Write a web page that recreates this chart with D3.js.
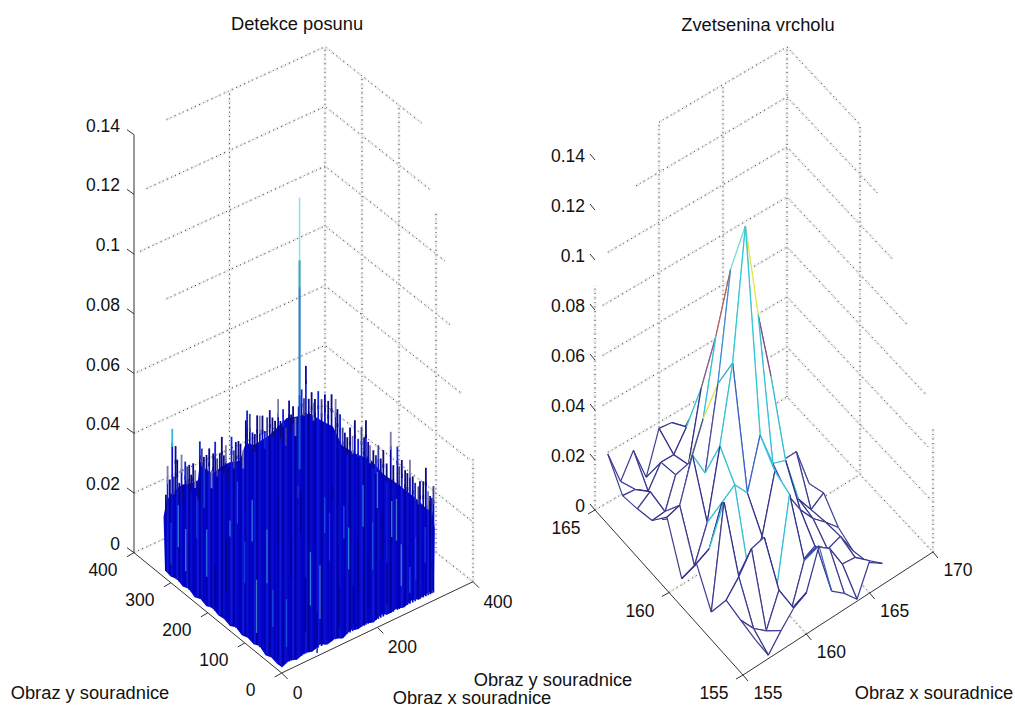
<!DOCTYPE html>
<html>
<head>
<meta charset="utf-8">
<script src="https://d3js.org/d3.v7.min.js"></script>
<style>
  html, body { margin: 0; background: #fff; }
  text { font-family: 'Liberation Sans', Arial, sans-serif; font-size: 17.5px; fill: #111; }
  text.name { font-size: 18.3px; }
</style>
</head>
<body>
<div id="chart"></div>
<script>
// heights are all in thousandths of the z unit
const zTicks = [0, 0.02, 0.04, 0.06, 0.08, 0.1, 0.12, 0.14]

// left plot: tips of the spikes along the back edges
const backX = [5, 8.5, 13.3, 18.2, 21.7, 25.2, 28.7, 32.9, 37.7, 41.2, 45.4, 49.6, 53.8, 57.9, 62.1, 66.3, 71.9, 76, 80.2, 84.4, 90, 95.6, 100.5, 104, 108.1, 112.3, 117.9, 122, 126.3, 130.4, 136, 142.3, 147.2, 151.3, 156.9, 161.1, 166.7, 172.3, 175, 180.6, 186.2, 191, 196, 201.5, 207.1, 212, 216.9, 222.4, 228, 233.6, 239.9, 244.7, 250.3, 255.9, 262.9, 267, 271.2, 276.1, 283, 289, 294, 298, 304, 310, 314, 317]
const backTip = [27.1, 36.5, 31.6, 48.2, 32, 41.9, 37.1, 29, 38.1, 27.7, 35.2, 33.3, 33.5, 29.9, 33.4, 30.8, 26, 39.7, 37, 33.9, 34.1, 35.9, 28.2, 33.6, 37.2, 31.3, 32.6, 37.8, 31.3, 34.4, 26.7, 36.3, 31.4, 33.9, 33.8, 32.5, 29.9, 39.6, 42.7, 41.1, 34.5, 33.6, 39.5, 39, 38.6, 33.1, 37.3, 39.3, 36.4, 34.9, 41.7, 34, 37.5, 30.9, 39.5, 34.5, 37, 32.7, 36, 41.3, 38, 48.5, 37, 38.8, 35, 36]
const sideY = [315, 306, 297, 288, 279, 268, 263, 256, 249, 243, 236.5, 229, 222, 216, 207, 198, 191, 186, 180, 175, 166, 159, 152.5, 146, 139, 130, 119, 112, 101, 96, 89, 80, 74, 67, 59.5, 53, 44, 40, 31, 24, 18, 12.5, 8, 3.5]
const sideTip = [38.9, 37.1, 39.6, 38.3, 41.4, 40.9, 38, 37, 33.2, 32.1, 31.2, 35.2, 33.1, 38.9, 33.6, 38.4, 35.7, 41.9, 35.2, 34.6, 33.8, 32.8, 36.8, 33, 36.5, 32.9, 44.6, 34.1, 41.4, 35.3, 38.1, 35.6, 35.2, 40.4, 35.5, 34, 33.7, 35.8, 36.7, 41.9, 34.6, 33.6, 33.4, 37.8]

// left plot: top of the solid mass under the spikes
const bodyBackX = [0, 6, 20, 38, 60, 72, 76, 90, 103, 125, 139, 160, 172, 190, 223, 258, 277, 306]
const bodyBackZ = [20, 25, 27, 28, 27, 27, 33, 29, 27, 28, 28, 27, 32, 30, 31, 34, 33, 32]
const bodySideY = [302, 275, 251, 210, 175, 140, 94, 48, 5, 0]
const bodySideZ = [30, 31, 27, 28, 30, 28.5, 29, 29, 28, 24]

// left plot: ragged lower rim of the mesh
const rimY = [316, 300, 284, 268, 252, 236, 220, 204, 188, 172, 156, 140, 124, 108, 92, 76, 60, 44, 28, 12, 0]
const rimYZ = [2.5, 2, 3, 2, 2.8, 1.6, 2.6, 1.8, 3, 2, 2.4, 1.6, 2.8, 1.8, 2.5, 2, 3, 1.5, 2.4, 1.8, 2]
const rimX = [0, 16, 32, 48, 64, 80, 96, 112, 128, 144, 160, 176, 192, 208, 224, 240, 256, 272, 288, 304, 318]
const rimXZ = [1.8, 3, 2, 3, 2.2, 3.4, 2.2, 3, 1.8, 3.4, 2.4, 3.2, 2.2, 3.6, 2.6, 3.2, 2.4, 3.6, 2.8, 3.4, 3.6]

// left plot: light and dark streaks inside the mass
const streakX = [0, 0, 160, 0, 34, 105, 0, 268, 74, 0, 0, 20, 60, 130, 210, 250, 300, 0, 0, 90, 180, 230, 0, 50, 140, 0, 120, 200, 0, 0, 0, 10, 40, 80, 100, 150, 170, 190, 220, 240, 280, 310, 0, 0, 0]
const streakY = [203, 24, 0, 68, 0, 0, 140, 0, 0, 260, 100, 0, 0, 0, 0, 0, 0, 180, 40, 0, 0, 0, 300, 0, 0, 120, 0, 0, 230, 150, 80, 0, 0, 0, 0, 0, 0, 0, 0, 0, 0, 0, 280, 210, 10]
const streakLo = [11.8, 13, 14.6, 6.6, 56, 50, 31.6, 6.4, 1, 8, 20, 30, 18, 35, 22, 10, 14, 4, 26, 40, 8, 28, 6, 10, 24, 38, 6, 40, 22, 12, 36, 8, 44, 12, 30, 5, 36, 20, 6, 26, 10, 22, 14, 34, 42]
const streakHi = [27.6, 25.5, 32.5, 24.4, 60, 54.5, 37, 15, 14.5, 22, 34, 44, 36, 46, 38, 24, 26, 18, 44, 52, 26, 40, 20, 28, 38, 52, 20, 52, 36, 30, 50, 24, 58, 30, 46, 18, 50, 36, 20, 40, 24, 34, 28, 48, 58]

// the tall peak of the left plot, from its tip down
const peakLevels = [131, 110, 101, 65, 40]

// right plot: mesh nodes, one row per y, 156..166 across
const meshX = [156, 157, 158, 159, 160, 161, 162, 163, 164, 165, 166]
const meshY = [155, 156, 157, 158, 159, 160, 161, 162, 163, 164, 165]
const row155 = [10.7, 1.4, 7.9, 13.6, 16.5, 32, 10.6, 6.4, 0.8, 12.9, 8.6]
const row156 = [12, 5.5, 1.3, 14.3, 3.6, 19.7, 22, 17.9, 8.5, 7.9, 2.7]
const row157 = [13.5, 19.6, 27.6, 29, 5.7, 39.7, 9.9, 12.5, 8, 10, 1]
const row158 = [2.2, 43, 9, 6.4, 19.7, 42.5, 29.9, 20.7, 14, 9.3, 4]
const row159 = [15, 17.7, 33, 37, 30.5, 50.5, 36, 34, 15.5, 8, 11.5]
const row160 = [2.4, 4.4, 18.5, 46, 76, 127.7, 89, 61.5, 24.8, 24.8, 9]
const row161 = [20.4, 22, 39, 28.7, 61.3, 104, 40, 30, 20, 14, 6]
const row162 = [12.5, 13, 7.6, 26.7, 40.8, 70.8, 30, 25, 15, 8, 6]
const row163 = [10.6, 14.4, 0.2, 15, 16, 43.5, 25, 20, 15, 8, 5]
const row164 = [9.3, 8.7, 5, 13.5, 13.5, 21.6, 29, 20, 15, 10, 8]
const row165 = [19.4, 5.4, 14.8, 1, 17.6, 16.9, 11.7, 5.7, 12, 8, 8]
const meshZ = [row155, row156, row157, row158, row159, row160, row161, row162, row163, row164, row165]

const svg = d3.select('#chart').append('svg').attr('width', 1015).attr('height', 707).style('display', 'block')

// corners of the floor on the page, then the bilinear map into it
function makeProjection(xDomain, yDomain, zHeight, corners) {
  const xs = d3.scaleLinear().domain(xDomain).range([0, 1])
  const ys = d3.scaleLinear().domain(yDomain).range([0, 1])
  const zs = d3.scaleLinear().domain([0, 0.14]).range([0, zHeight])
  return (x, y, z) => {
    const a = xs(x)
    const b = ys(y)
    const mix = k => corners.front[k] * (1 - a) * (1 - b) + corners.right[k] * a * (1 - b) +
      corners.left[k] * (1 - a) * b + corners.back[k] * a * b
    return [mix(0), mix(1) - zs(z || 0)]
  }
}

const line = d3.line()

function dotted(g, points) {
  g.append('path').attr('d', line(points)).attr('fill', 'none').attr('stroke', '#ececec')
    .attr('stroke-width', 3).attr('stroke-dasharray', '4 3')
  g.append('path').attr('d', line(points)).attr('fill', 'none').attr('stroke', '#333')
    .attr('stroke-width', 1).attr('stroke-dasharray', '1 3.5')
}
function solid(g, a, b) {
  g.append('path').attr('d', line([a, b])).attr('stroke', '#333').attr('stroke-width', 1)
}
function label(g, pos, dx, dy, s, anchor) {
  return g.append('text').attr('x', pos[0] + dx).attr('y', pos[1] + dy).attr('text-anchor', anchor || 'middle').text(s)
}

/* ---------- left plot ---------- */
const leftG = svg.append('g')
const pL = makeProjection([0, 400], [0, 400], 418, {
  front: [281.7, 673], right: [473, 581.7], left: [134, 552.7], back: [325, 464.7]
})

// wall grid; some lines of the original stop short of the corner
const leftGridFrom = [0, 0, 0, 6, 68, 13, 26, 68]
const leftGridTo = [0, 0, 8, 31, 58, 76, 116, 139]
zTicks.forEach((z, i) => {
  dotted(leftG, [pL(leftGridFrom[i], 400, z), pL(400, 400, z), pL(400, leftGridTo[i], z)])
})
dotted(leftG, [pL(200, 400, 0), pL(200, 400, 0.14)])
dotted(leftG, [pL(400, 400, 0), pL(400, 400, 0.14)])
dotted(leftG, [pL(400, 300, 0), pL(400, 300, 0.14)])
dotted(leftG, [pL(400, 200, 0), pL(400, 200, 0.14)])
dotted(leftG, [pL(400, 100, 0), pL(400, 100, 0.114)])
dotted(leftG, [pL(400, 0, 0), pL(400, 0, 0.041)])

// solid mass
const maxGrid = 320
const bodyPts = []
rimY.forEach((y, i) => bodyPts.push(pL(0, y, rimYZ[i] / 1000)))
rimX.forEach((x, i) => bodyPts.push(pL(x, 0, rimXZ[i] / 1000)))
d3.range(bodySideY.length).reverse().forEach(i => bodyPts.push(pL(maxGrid, bodySideY[i], bodySideZ[i] / 1000)))
d3.range(bodyBackX.length).reverse().forEach(i => bodyPts.push(pL(bodyBackX[i], maxGrid, bodyBackZ[i] / 1000)))
leftG.append('path').attr('d', line(bodyPts) + 'Z').attr('fill', '#0808c8')

// spikes run from the tip down to the lower rim at the same page x
const tipColors = ['#0a0a86', '#7b7ba8', '#08087a', '#1024d8', '#40408e', '#0a0aa0', '#0c0c70']
const bandColors = ['#0000b4', '#0c18e0', '#00009a', '#0610cc', '#0000c8']
const footAt = u => {
  const f = pL(0, 0, 0)
  const r = pL(400, 0, 0)
  const l = pL(0, 400, 0)
  if (u >= f[0]) return [u, f[1] + (r[1] - f[1]) * (u - f[0]) / (r[0] - f[0]) - 8]
  return [u, f[1] + (l[1] - f[1]) * (f[0] - u) / (f[0] - l[0]) - 8]
}
const tips = backX.map((x, i) => pL(x, maxGrid, backTip[i] / 1000))
  .concat(sideY.map((y, i) => pL(maxGrid, y, sideTip[i] / 1000)))
tips.forEach((t, i) => {
  const mid = [t[0], t[1] + 14]
  leftG.append('path').attr('d', line([mid, footAt(t[0])])).attr('stroke', bandColors[i % bandColors.length]).attr('stroke-width', 1.7)
})
tips.forEach((t, i) => {
  const mid = [t[0], t[1] + 18]
  leftG.append('path').attr('d', line([t, mid])).attr('stroke', i === 3 ? '#38b8d8' : tipColors[i % tipColors.length]).attr('stroke-width', 1.8)
})

const streakColors = ['#2c78e0', '#1a4ce4', '#00008c', '#3f78c8', '#1438e0', '#00007c']
streakX.forEach((x, i) => {
  leftG.append('path')
    .attr('d', line([pL(x, streakY[i], streakLo[i] / 1000), pL(x, streakY[i], streakHi[i] / 1000)]))
    .attr('stroke', streakColors[i % streakColors.length]).attr('stroke-width', 1.3)
})

// peak
const peakColors = ['#86e4ea', '#3fa8bc', '#2f80c4', '#1c50d0']
peakLevels.slice(1).forEach((z, i) => {
  leftG.append('path').attr('d', line([pL(161, 160, peakLevels[i] / 1000), pL(161, 160, z / 1000)]))
    .attr('stroke', peakColors[i]).attr('stroke-width', i === 0 ? 1.5 : 2.2)
})

// axes
solid(leftG, pL(0, 400, 0), pL(0, 400, 0.14))
solid(leftG, pL(0, 0, 0), pL(0, 400, 0))
solid(leftG, pL(0, 0, 0), pL(400, 0, 0))
zTicks.forEach(z => {
  const p = pL(0, 400, z)
  solid(leftG, p, [p[0] - 7, p[1] - 5])
  label(leftG, p, -14, -3, String(z), 'end')
})
const leftYTicks = [0, 100, 200, 300, 400]
leftYTicks.forEach(y => {
  const p = pL(0, y, 0)
  solid(leftG, p, [p[0] - 7, p[1] + 4])
  label(leftG, p, -31, 23, String(y))
})
const leftXTicks = [0, 200, 400]
leftXTicks.forEach(x => {
  const p = pL(x, 0, 0)
  solid(leftG, p, [p[0] + 6, p[1] + 6])
  label(leftG, p, x === 0 ? 16 : 25, 26, String(x))
})
label(leftG, [297, 30], 0, 0, 'Detekce posunu').attr('class', 'name')
label(leftG, [90, 699], 0, 0, 'Obraz y souradnice').attr('class', 'name')
label(leftG, [553, 686], 0, 0, 'Obraz y souradnice').attr('class', 'name')
label(leftG, [472, 704], 0, 0, 'Obraz x souradnice').attr('class', 'name')

/* ---------- right plot ---------- */
const rightG = svg.append('g')
const pR = makeProjection([155, 170], [155, 165], 350, {
  front: [743, 675], right: [933, 552], left: [595, 510], back: [787, 397]
})

const rightGridFrom = [155, 156, 155.6, 155.6, 155.6, 156, 158.2, 160]
const rightGridTo = [155, 155.1, 155.3, 155.5, 156.8, 157.7, 158.8, 160]
zTicks.forEach((z, i) => {
  dotted(rightG, [pR(rightGridFrom[i], 165, z), pR(170, 165, z), pR(170, rightGridTo[i], z)])
})
dotted(rightG, [pR(160, 165, 0), pR(160, 165, 0.14)])
dotted(rightG, [pR(165, 165, 0), pR(165, 165, 0.14)])
dotted(rightG, [pR(170, 165, 0), pR(170, 165, 0.14)])
dotted(rightG, [pR(170, 160, 0), pR(170, 160, 0.14)])
dotted(rightG, [pR(170, 155, 0), pR(170, 155, 0.05)])
dotted(rightG, [pR(155, 165, 0), pR(155, 165, 0.09)])
// floor
dotted(rightG, [pR(160, 155, 0), pR(160, 165, 0)])
dotted(rightG, [pR(165, 155, 0), pR(165, 165, 0)])
dotted(rightG, [pR(155, 160, 0), pR(170, 160, 0)])

const edgeOverrides = {
  '161,160-161,161': '#7fdcd8', '161,160-162,160': '#e6e650', '160,160-161,160': '#35c6d6',
  '161,159-161,160': '#35c6d6', '161,161-161,162': '#b0605a', '161,162-161,163': '#8a5a8a',
  '162,160-163,160': '#7a4a80', '163,160-164,160': '#e8c840', '160,161-160,162': '#e0e060',
  '160,162-160,163': '#b8e080', '160,160-160,161': '#3aa8c8', '160,161-161,161': '#3f8fd0',
  '160,157-161,157': '#35c0d4', '159,158-159,159': '#35c0d4', '164,159-164,160': '#35b4cc',
  '158,158-159,158': '#35c0d4', '163,159-164,159': '#35b4cc'
}
function edgeColor(z, key) {
  if (edgeOverrides[key]) return edgeOverrides[key]
  if (z < 12) return '#3c3c90'
  if (z < 22) return '#32328c'
  if (z < 30) return '#4a4a9c'
  if (z < 33) return '#3a62c0'
  if (z < 62) return '#35c0d4'
  return '#3f8fd0'
}

// back to front so the white faces hide what is behind them
const node = (i, j) => pR(meshX[i], meshY[j], meshZ[j][i] / 1000)
const cells = []
for (let i = 0; i < meshX.length - 1; i++) {
  for (let j = 0; j < meshY.length - 1; j++) cells.push([i, j])
}
cells.sort((p, q) => (q[0] + q[1]) - (p[0] + p[1]))
cells.forEach(([i, j]) => {
  const corners = [node(i, j), node(i + 1, j), node(i + 1, j + 1), node(i, j + 1)]
  rightG.append('path').attr('d', line(corners) + 'Z').attr('fill', '#fff')
  const seg = (i0, j0, i1, j1) => {
    const key = meshX[i0] + ',' + meshY[j0] + '-' + meshX[i1] + ',' + meshY[j1]
    rightG.append('path').attr('d', line([node(i0, j0), node(i1, j1)])).attr('fill', 'none')
      .attr('stroke', edgeColor(meshZ[j0][i0], key)).attr('stroke-width', 1.2)
  }
  seg(i + 1, j, i + 1, j + 1)
  seg(i, j + 1, i + 1, j + 1)
  seg(i, j, i + 1, j)
  seg(i, j, i, j + 1)
})

solid(rightG, pR(155, 155, 0), pR(155, 165, 0))
solid(rightG, pR(155, 155, 0), pR(170, 155, 0))
zTicks.forEach(z => {
  const p = pR(155, 165, z)
  solid(rightG, p, [p[0] - 5, p[1] - 6])
  label(rightG, p, -10, 2, String(z), 'end')
})
const rightYTicks = [155, 160, 165]
rightYTicks.forEach(y => {
  const p = pR(155, y, 0)
  solid(rightG, p, [p[0] - 7, p[1] + 4])
  label(rightG, p, -29, 24, String(y))
})
const rightXTicks = [155, 160, 165, 170]
rightXTicks.forEach(x => {
  const p = pR(x, 155, 0)
  solid(rightG, p, [p[0] + 5, p[1] + 6])
  label(rightG, p, 25, 24, String(x))
})
label(rightG, [758, 31], 0, 0, 'Zvetsenina vrcholu').attr('class', 'name')
label(rightG, [934, 699], 0, 0, 'Obraz x souradnice').attr('class', 'name')
</script>
</body>
</html>
